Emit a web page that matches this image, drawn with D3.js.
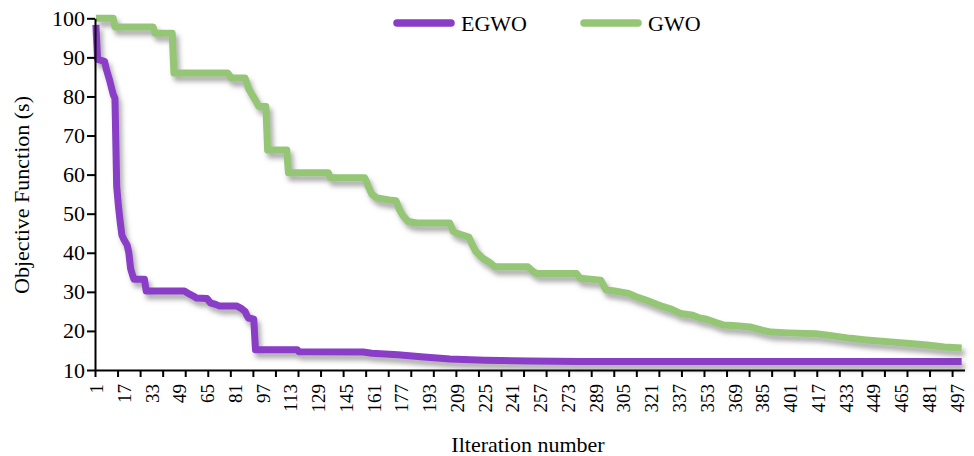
<!DOCTYPE html>
<html>
<head>
<meta charset="utf-8">
<script src="https://cdn.jsdelivr.net/npm/d3@7"></script>
<style>
  body { margin: 0; background: #fff; }
  svg { display: block; font-family: "Liberation Serif", "Times New Roman", serif; }
</style>
</head>
<body>
<svg id="chart" width="974" height="456"></svg>
<script>
// Convergence curves: best objective value found at each iteration.
const seriesNames = ["EGWO", "GWO"];

// EGWO (iteration, objective) points where the curve changes
const egwoIter = [1, 2, 6, 7, 9, 11, 12, 13, 14, 15, 16, 17, 19, 20, 21, 22, 23, 29, 30,
  52, 55, 58, 59, 65, 67, 70, 72, 82, 85, 87, 88, 89, 92, 93, 117, 118, 155, 160,
  175, 190, 205, 225, 250, 280, 500];
const egwoValue = [98.3, 89.5, 89, 87, 84, 80.5, 79.5, 57, 52, 48, 44.5, 43.5, 42, 40, 36, 34.5, 33.2, 33.2, 30.2,
  30.2, 29.4, 28.7, 28.4, 28.3, 27.2, 26.8, 26.4, 26.4, 25.7, 25, 24, 23.3, 23, 15.2, 15.2, 14.7, 14.6, 14.3,
  13.9, 13.3, 12.8, 12.5, 12.3, 12.2, 12.2];

// GWO (iteration, objective) points where the curve changes
const gwoIter = [1, 11, 12, 34, 35, 45, 46, 77, 79, 87, 89, 91, 93, 95, 99, 100, 111, 112,
  135, 136, 156, 158, 160, 163, 170, 174, 176, 178, 181, 186, 205, 207, 209, 216, 218, 220,
  224, 228, 231, 250, 253, 255, 278, 280, 292, 295, 300, 308, 312, 318, 322, 328, 333, 338,
  345, 349, 353, 358, 363, 370, 378, 385, 390, 400, 416, 425, 436, 445, 459, 470, 480, 490, 500];
const gwoValue = [100, 100, 97.8, 97.8, 96.2, 96.2, 86, 86, 84.7, 84.7, 82, 80.5, 79, 77.4, 77.4, 66.3, 66.3, 60.5,
  60.5, 59.2, 59.2, 57, 55, 54, 53.5, 53.3, 51, 49.5, 48, 47.6, 47.6, 45.5, 45, 44, 42, 40.3,
  38.6, 37.5, 36.4, 36.4, 35.2, 34.7, 34.7, 33.5, 33, 30.5, 30.2, 29.6, 28.8, 27.9, 27.2, 26.2, 25.5, 24.5,
  24, 23.3, 23, 22.2, 21.5, 21.3, 21, 20.2, 19.7, 19.5, 19.3, 18.8, 18.1, 17.7, 17.2, 16.8, 16.4, 15.9, 15.6];

const iterationCount = 500;
const xTickLabels = [1, 17, 33, 49, 65, 81, 97, 113, 129, 145, 161, 177, 193, 209, 225, 241,
  257, 273, 289, 305, 321, 337, 353, 369, 385, 401, 417, 433, 449, 465, 481, 497];
const yTickLabels = [10, 20, 30, 40, 50, 60, 70, 80, 90, 100];

const colors = { EGWO: "#8a3cc6", GWO: "#94c674" };

const svg = d3.select("#chart");
const plotLeft = 95, plotRight = 962.5, plotTop = 18.3, plotBottom = 370;

// Category axis: each iteration occupies one slot
const x = d3.scaleLinear().domain([0.5, iterationCount + 0.5]).range([plotLeft, plotRight]);
const y = d3.scaleLinear().domain([10, 100]).range([plotBottom, plotTop]);

const defs = svg.append("defs");
const filter = defs.append("filter").attr("id", "shadow")
  .attr("filterUnits", "userSpaceOnUse")
  .attr("x", 0).attr("y", 0).attr("width", 974).attr("height", 456);
filter.append("feDropShadow")
  .attr("dx", 3).attr("dy", 5).attr("stdDeviation", 2.5)
  .attr("flood-color", "#666").attr("flood-opacity", 0.55);

const series = [
  { name: "EGWO", pts: egwoIter.map((it, i) => [it, egwoValue[i]]) },
  { name: "GWO", pts: gwoIter.map((it, i) => [it, gwoValue[i]]) }
];

const line = d3.line().x(d => x(d[0])).y(d => y(d[1]));

svg.append("g").selectAll("path").data(series).join("path")
  .attr("d", d => line(d.pts))
  .attr("fill", "none")
  .attr("stroke", d => colors[d.name])
  .attr("stroke-width", 7)
  .attr("stroke-linejoin", "round")
  .attr("filter", "url(#shadow)");

// Y axis
const yAxis = svg.append("g").attr("transform", `translate(${plotLeft},0)`)
  .call(d3.axisLeft(y).tickValues(yTickLabels).tickSize(8).tickPadding(2).tickSizeOuter(0));
yAxis.select(".domain").attr("stroke", "#000").attr("stroke-width", 2);
yAxis.selectAll(".tick line").attr("stroke", "#000").attr("stroke-width", 2);
yAxis.selectAll(".tick text").attr("font-size", 22).attr("fill", "#000")
  .attr("font-family", "Liberation Serif");

// X axis: tick marks every 13 iterations, labels every 16
const tickMarks = d3.range(0, 39).map(k => 0.5 + 13 * k);
const xMarks = svg.append("g").attr("transform", `translate(0,${plotBottom})`)
  .call(d3.axisBottom(x).tickValues(tickMarks).tickFormat("").tickSize(7).tickSizeOuter(0));
xMarks.select(".domain").attr("d", `M${plotLeft},0.5H965`).attr("stroke", "#000").attr("stroke-width", 2);
xMarks.selectAll(".tick line").attr("stroke", "#000").attr("stroke-width", 2);

const xLabels = svg.append("g").attr("transform", `translate(0,${plotBottom})`)
  .call(d3.axisBottom(x).tickValues(xTickLabels).tickSize(0).tickPadding(0));
xLabels.select(".domain").remove();
xLabels.selectAll(".tick text")
  .attr("font-size", 19).attr("fill", "#000").attr("font-family", "Liberation Serif")
  .attr("text-anchor", "end")
  .attr("transform", "rotate(-90)")
  .attr("x", -14).attr("y", 0).attr("dy", "0.35em");

// Axis titles
svg.append("text").attr("x", 528).attr("y", 452).attr("text-anchor", "middle")
  .attr("font-size", 22).text("Ilteration number");
svg.append("text").attr("transform", "translate(29,195) rotate(-90)").attr("text-anchor", "middle")
  .attr("font-size", 22).text("Objective Function (s)");

// Legend
const legendItems = [
  { name: "EGWO", x1: 397, x2: 451, tx: 461 },
  { name: "GWO", x1: 584, x2: 638, tx: 648 }
];
const lg = svg.append("g").selectAll("g").data(legendItems).join("g");
lg.append("line")
  .attr("x1", d => d.x1).attr("x2", d => d.x2).attr("y1", 23).attr("y2", 23)
  .attr("stroke", d => colors[d.name]).attr("stroke-width", 7.5).attr("stroke-linecap", "round");
lg.append("text").attr("x", d => d.tx).attr("y", 31).attr("font-size", 22).text(d => d.name);
</script>
</body>
</html>
